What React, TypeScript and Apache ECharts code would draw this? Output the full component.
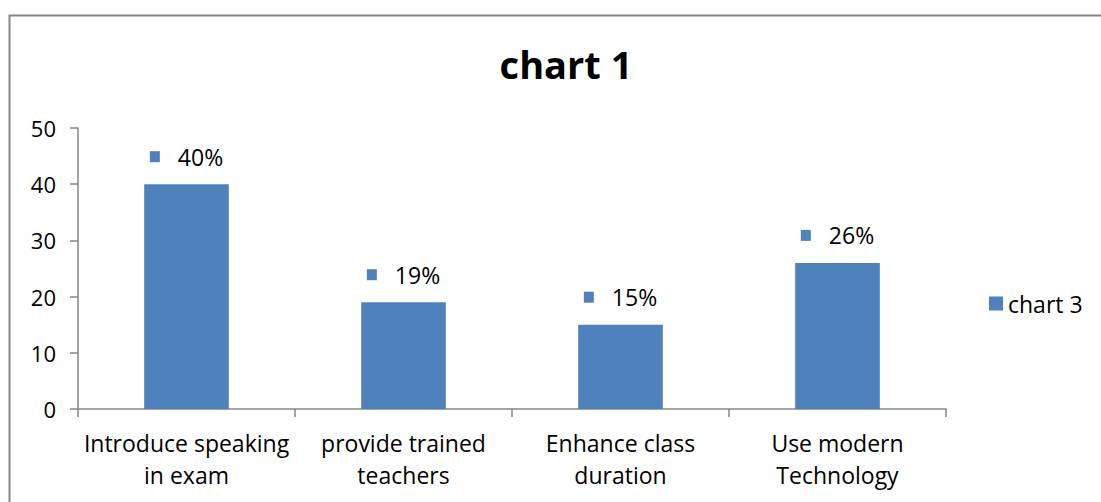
import React, { useEffect, useRef } from "react";
import * as echarts from "echarts";

const categories = [
  "Introduce speaking\nin exam",
  "provide trained\nteachers",
  "Enhance class\nduration",
  "Use modern\nTechnology",
];
const values = [40, 19, 15, 26];
const seriesName = "chart 3";
const titleText = "chart 1";
const yTicks = { min: 0, max: 50, interval: 10 };

const BAR = "#4F81BD";
const AXIS = "#868686";
const FONT = "Open Sans";

export default function App() {
  const ref = useRef<HTMLDivElement>(null);
  useEffect(() => {
    if (!ref.current) return;
    const chart = echarts.init(ref.current, null, { renderer: "svg" });
    chart.setOption({
      animation: false,
      backgroundColor: "#ffffff",
      textStyle: { fontFamily: FONT, color: "#000" },
      title: {
        text: titleText,
        left: 561,
        top: 40,
        textAlign: "center",
        textStyle: { fontSize: 38, fontWeight: "bold", fontFamily: FONT, color: "#000" },
      },
      graphic: [
        {
          type: "rect",
          shape: { x: 9.5, y: 15.5, width: 1300, height: 700 },
          style: { fill: "none", stroke: "#878787", lineWidth: 2 },
          silent: true,
        },
      ],
      legend: {
        data: [seriesName],
        left: 984,
        top: 287,
        itemWidth: 14,
        itemHeight: 14,
        itemGap: 6,
        icon: "rect",
        textStyle: { fontSize: 23, fontFamily: FONT, color: "#000" },
      },
      grid: { left: 78, right: 155, top: 128, bottom: 93, containLabel: false },
      xAxis: {
        type: "category",
        data: categories,
        axisLine: { lineStyle: { color: AXIS, width: 1.5 } },
        axisTick: { show: true, alignWithLabel: false, length: 8, lineStyle: { color: AXIS, width: 1.5 } },
        axisLabel: { fontSize: 23, lineHeight: 32, margin: 18, color: "#000", fontFamily: FONT, interval: 0 },
      },
      yAxis: {
        type: "value",
        min: yTicks.min,
        max: yTicks.max,
        interval: yTicks.interval,
        axisLine: { show: true, lineStyle: { color: AXIS, width: 1.5 } },
        axisTick: { show: true, length: 8, lineStyle: { color: AXIS, width: 1.5 } },
        splitLine: { show: false },
        axisLabel: { fontSize: 22, margin: 22, color: "#000", fontFamily: FONT },
      },
      series: [
        {
          name: seriesName,
          type: "bar",
          data: values,
          barWidth: "39%",
          itemStyle: { color: BAR },
          label: {
            show: true,
            position: "top",
            distance: 16,
            formatter: (p: any) => `{sq|}{gap|}{v|${p.value}%}`,
            rich: {
              sq: { width: 10, height: 11, backgroundColor: BAR },
              gap: { width: 18 },
              v: { fontSize: 23, fontFamily: FONT, color: "#000" },
            },
          },
        },
      ],
    });
    return () => chart.dispose();
  }, []);
  return (
    <div
      ref={ref}
      style={{ position: "fixed", left: 0, top: 0, width: 1101, height: 502 }}
    />
  );
}
